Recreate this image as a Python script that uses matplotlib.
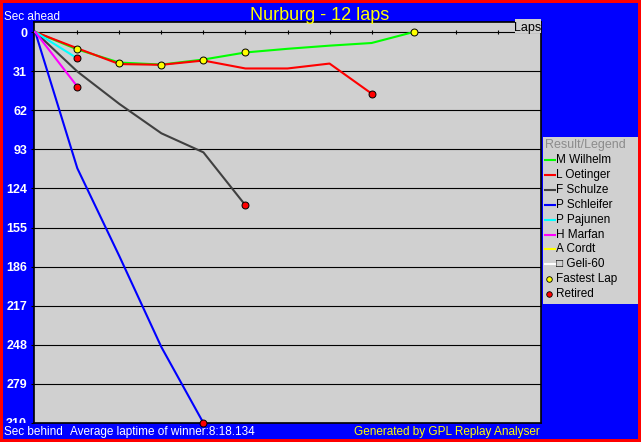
import matplotlib
matplotlib.use("Agg")
import matplotlib.pyplot as plt
from matplotlib.patches import Rectangle
from matplotlib.lines import Line2D
from matplotlib.transforms import Bbox, TransformedBbox

plt.rcParams["font.family"] = ["Liberation Sans", "DejaVu Sans"]

# ── data (sec behind the reference, per lap) ──────────────────────────────
drivers = ["M Wilhelm", "L Oetinger", "F Schulze", "P Schleifer",
           "P Pajunen", "H Marfan", "A Cordt", "\u25a1 Geli-60"]
colors = ["#00ff00", "#ff0000", "#404040", "#0000ff",
          "#00ffff", "#ff00ff", "#ffff00", "#ffffff"]
wilhelm = [0, 13.8, 24.2, 25.8, 21.8, 16.2, 13.3, 10.8, 8.7, 0]
oetinger = [0, 12.9, 25.4, 26.0, 22.6, 28.9, 28.9, 25.0, 48.8]
schulze = [0, 31.3, 57.0, 80.3, 95.4, 137.4]
schleifer = [0, 108.0, 177.7, 249.8, 310.0]
pajunen = [0, 20.9]
marfan = [0, 43.2]
cordt = []
geli = []
series = [wilhelm, oetinger, schulze, schleifer, pajunen, marfan, cordt, geli]
retired = [False, True, True, True, True, True, False, False]
fastest_laps = [1, 2, 3, 4, 5, 9]          # fastest laps, all by M Wilhelm
yticks = [0, 31, 62, 93, 124, 155, 186, 217, 248, 279, 310]
n_laps = 12

W, H = 641, 442
BLUE, GRAY = "#0000ff", "#d0d0d0"
fx = lambda x: x / W
fy = lambda y: 1 - y / H

fig = plt.figure(figsize=(W / 100, H / 100), dpi=100, facecolor=BLUE)
fig.patch.set_edgecolor("#ff0000"); fig.patch.set_linewidth(3)

ax = fig.add_axes([fx(34), fy(423), (541 - 34) / W, (423 - 22) / H])
ax.set_facecolor(GRAY)
for s in ax.spines.values():
    s.set_color("black"); s.set_linewidth(1.2)
ax.set_xlim(-0.03, n_laps + 0.03)
ax.set_ylim(310, -7.95)
ax.set_xticks([])
ax.set_yticks(yticks)
ax.set_yticklabels([str(t) for t in yticks], color="white", fontweight="bold", fontsize=9)
ax.tick_params(axis="y", length=2.5, width=0.8, color="black", pad=2.5)
ax.yaxis.grid(True, color="black", linewidth=0.8)
ax.set_axisbelow(True)
# the bottom label is cut off at the plot's lower edge in the original
last = ax.get_yticklabels()[-1]
last.set_clip_box(TransformedBbox(Bbox.from_extents(0, fy(423), 1, 1), fig.transFigure))
last.set_clip_on(True)
# lap ticks on the zero line
ax.plot(range(1, n_laps), [0] * (n_laps - 1), "|", color="black", ms=3.5, mew=0.8, zorder=2)

for vals, c in zip(series, colors):
    if vals:
        ax.plot(range(len(vals)), vals, color=c, linewidth=1.5, zorder=3)
ax.plot(fastest_laps, [wilhelm[l] for l in fastest_laps], "o", ms=5, mfc="#ffff00",
        mec="black", mew=0.7, zorder=5, clip_on=False)
for vals, r in zip(series, retired):
    if r:
        ax.plot(len(vals) - 1, vals[-1], "o", ms=5, mfc="#ff0000", mec="black",
                mew=0.7, zorder=5, clip_on=False)

# ── texts ──
fig.text(fx(320), fy(20), "Nurburg - 12 laps", color="#ffff00", fontsize=13,
         ha="center", va="baseline")
fig.text(fx(4), fy(20), "Sec ahead", color="white", fontsize=8.5, va="baseline")
fig.text(fx(4), fy(435), "Sec behind", color="white", fontsize=8.5, va="baseline", zorder=3)
fig.text(fx(70), fy(435), "Average laptime of winner:8:18.134", color="white",
         fontsize=8.5, va="baseline", zorder=3)
fig.text(fx(540), fy(435), "Generated by GPL Replay Analyser", color="#ffff00",
         fontsize=8.5, va="baseline", ha="right", zorder=3)
fig.patches.append(Rectangle((fx(515), fy(33)), 26 / W, 14 / H, transform=fig.transFigure,
                             facecolor=GRAY, edgecolor="none", zorder=2))
fig.text(fx(528), fy(31), "Laps", color="black", fontsize=9, ha="center",
         va="baseline", zorder=3)

# ── legend ──
fig.patches.append(Rectangle((fx(543), fy(304)), 95 / W, 167 / H, transform=fig.transFigure,
                             facecolor=GRAY, edgecolor="none", zorder=1))
fig.text(fx(545), fy(145), "Result/Legend", color="#8c8c8c", fontsize=9, va="center")
for i, (name, c) in enumerate(zip(drivers, colors)):
    y = 160 + i * 14.9
    fig.lines.append(Line2D([fx(545), fx(555)], [fy(y), fy(y)], color=c, lw=1.5,
                            transform=fig.transFigure))
    fig.text(fx(556), fy(y), name, color="black", fontsize=8.5, va="center")
for j, (name, fc) in enumerate([("Fastest Lap", "#ffff00"), ("Retired", "#ff0000")]):
    y = 160 + (len(drivers) + j) * 14.9
    fig.lines.append(Line2D([fx(549)], [fy(y)], marker="o", ms=4, mfc=fc, mec="black",
                            mew=0.6, transform=fig.transFigure))
    fig.text(fx(556), fy(y), name, color="black", fontsize=8.5, va="center")

fig.savefig("out.png", dpi=100, facecolor=BLUE, edgecolor="#ff0000")
